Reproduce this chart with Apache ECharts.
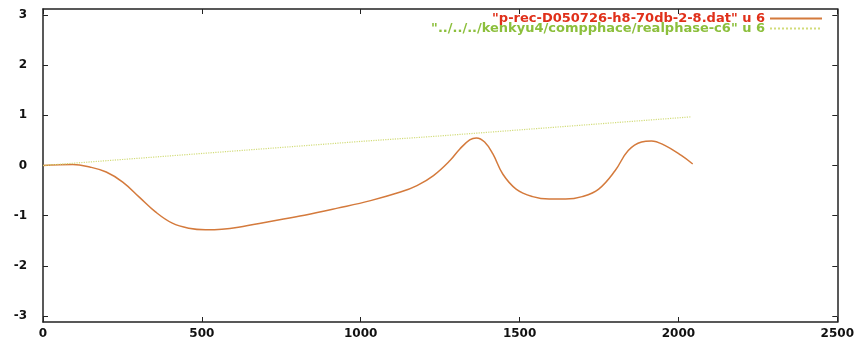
<!DOCTYPE html>
<html>
<head>
<meta charset="utf-8">
<script src="https://cdn.jsdelivr.net/npm/echarts@6/dist/echarts.min.js"></script>
<style>
  html, body { margin: 0; padding: 0; background: #fff; }
  #chart { width: 857px; height: 340px; }
</style>
</head>
<body>
<div id="chart"></div>
<script>
// 曲线数据
var recX = [0, 94, 147, 199, 251, 303, 355, 407, 459, 511, 563, 615, 719, 823, 927, 1031,
    1125, 1177, 1229, 1281, 1312, 1343, 1364, 1390, 1416, 1447, 1489, 1541, 1593, 1645,
    1697, 1749, 1801, 1842, 1884, 1915, 1957, 2009, 2045];
var recY = [0, 0.02, -0.03, -0.13, -0.33, -0.63, -0.93, -1.15, -1.25, -1.28, -1.27, -1.23, -1.11, -0.99, -0.85, -0.70,
    -0.53, -0.40, -0.20, 0.10, 0.33, 0.51, 0.55, 0.47, 0.23, -0.17, -0.47, -0.62, -0.67, -0.67,
    -0.62, -0.47, -0.10, 0.30, 0.47, 0.49, 0.40, 0.20, 0.03];
var realX = [0, 250, 500, 750, 1000, 1250, 1500, 1750, 2040];
var realY = [0, 0.12, 0.24, 0.36, 0.48, 0.59, 0.71, 0.83, 0.97];
var yTicks = [-3, -2, -1, 0, 1, 2, 3];

var name1 = '"p-rec-D050726-h8-70db-2-8.dat" u 6';
var name2 = '"../../../kenkyu4/compphace/realphase-c6" u 6';

function pairs(xs, ys) {
    var out = [];
    for (var i = 0; i < xs.length; i++) out.push([xs[i], ys[i]]);
    return out;
}

var e = echarts.init(document.getElementById('chart'));
var font = 'DejaVu Sans';
var lineCol = '#222';
var hideSym = { color: 'transparent', borderColor: 'transparent', borderWidth: 0 };

var option = {
    animation: false,
    backgroundColor: '#fff',
    grid: { left: 43, right: 13, top: 9, bottom: 18 },
    legend: [
        {
            data: [name1], right: 29, top: 7, itemWidth: 52, itemHeight: 8, itemGap: 0,
            align: 'right', itemStyle: hideSym,
            textStyle: { color: '#e0301a', fontFamily: font, fontWeight: 'bold', fontSize: 13 }
        },
        {
            data: [name2], right: 29, top: 17, itemWidth: 52, itemHeight: 8, itemGap: 0,
            align: 'right', itemStyle: hideSym,
            textStyle: { color: '#8cbf3c', fontFamily: font, fontWeight: 'bold', fontSize: 13 }
        }
    ],
    xAxis: [
        {
            type: 'value', min: 0, max: 2500, interval: 500,
            axisLine: { show: true, onZero: false, lineStyle: { color: lineCol, width: 1.5 } },
            axisTick: { inside: true, length: 5, lineStyle: { color: lineCol } },
            axisLabel: {
                margin: 6, color: '#111', fontFamily: font, fontWeight: 'bold', fontSize: 12,
                formatter: function (v) { return String(v); }
            },
            splitLine: { show: false }
        },
        {
            type: 'value', min: 0, max: 2500, interval: 500, position: 'top',
            axisLine: { show: true, onZero: false, lineStyle: { color: lineCol, width: 1.5 } },
            axisTick: { inside: true, length: 5, lineStyle: { color: lineCol } },
            axisLabel: { show: false },
            splitLine: { show: false }
        }
    ],
    yAxis: [
        {
            type: 'value', min: -3.12, max: 3.12,
            axisLine: { show: true, onZero: false, lineStyle: { color: lineCol, width: 1.5 } },
            axisTick: { inside: true, length: 5, customValues: yTicks, lineStyle: { color: lineCol } },
            axisLabel: { margin: 16, customValues: yTicks, color: '#111', fontFamily: font, fontWeight: 'bold', fontSize: 12 },
            splitLine: { show: false }
        },
        {
            type: 'value', min: -3.12, max: 3.12, position: 'right',
            axisLine: { show: true, onZero: false, lineStyle: { color: lineCol, width: 1.5 } },
            axisTick: { inside: true, length: 5, customValues: yTicks, lineStyle: { color: lineCol } },
            axisLabel: { show: false },
            splitLine: { show: false }
        }
    ],
    series: [
        {
            name: name1, type: 'line', smooth: 0.4,
            showSymbol: false, symbol: 'none',
            data: pairs(recX, recY),
            lineStyle: { color: '#d47a3c', width: 1.5 },
            itemStyle: { color: '#d47a3c' }
        },
        {
            name: name2, type: 'line',
            showSymbol: false, symbol: 'none',
            data: pairs(realX, realY),
            lineStyle: { color: '#d2dc7a', width: 1.2, type: 'dotted' },
            itemStyle: { color: '#d2dc7a' }
        }
    ]
};
e.setOption(option);
</script>
</body>
</html>
